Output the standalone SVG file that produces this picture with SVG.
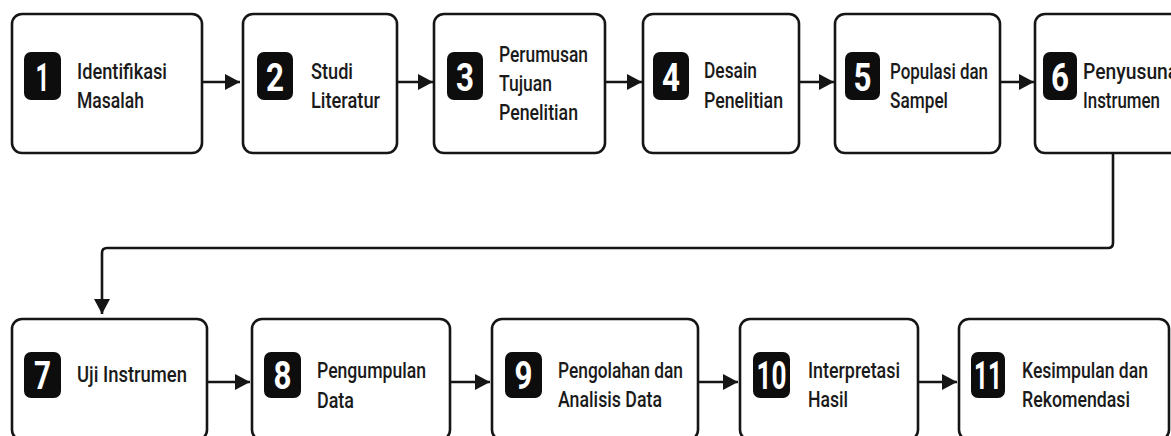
<svg xmlns="http://www.w3.org/2000/svg" width="1171" height="436" viewBox="0 0 1171 436">
<defs>
<style>
.box{fill:#fff;stroke:#151515;stroke-width:2.6}
.badge{fill:#0d0d0d}
.num{font-family:"Roboto","Liberation Sans",sans-serif;font-weight:700;font-size:39px;fill:#fff;text-anchor:middle}
.lbl{font-family:"Roboto","Liberation Sans",sans-serif;font-weight:500;font-size:22px;fill:#1a1a1a}
.con{fill:none;stroke:#151515;stroke-width:2.6}
</style>
<marker id="ah" markerUnits="userSpaceOnUse" markerWidth="16" markerHeight="18" refX="15" refY="9" orient="auto">
<path d="M0,1 L15,9 L0,17 z" fill="#151515"/>
</marker>
</defs>
<rect width="1171" height="436" fill="#fff"/>

<g id="connectors">
<path class="con" d="M202,82 H240" marker-end="url(#ah)"/>
<path class="con" d="M397,82 H433" marker-end="url(#ah)"/>
<path class="con" d="M605,82 H642" marker-end="url(#ah)"/>
<path class="con" d="M799,82 H834" marker-end="url(#ah)"/>
<path class="con" d="M1000,82 H1034" marker-end="url(#ah)"/>
<path class="con" d="M1113,153 V243 Q1113,248 1108,248 H107 Q102,248 102,253 V314" marker-end="url(#ah)"/>
<path class="con" d="M207,382 H250" marker-end="url(#ah)"/>
<path class="con" d="M450,382 H490" marker-end="url(#ah)"/>
<path class="con" d="M698,382 H738" marker-end="url(#ah)"/>
<path class="con" d="M918,382 H957" marker-end="url(#ah)"/>
</g>

<g id="node1">
<rect class="box" x="12" y="14" width="190" height="139" rx="10"/>
<rect class="badge" x="24" y="52" width="37" height="48" rx="7"/>
<text class="num" x="42.5" y="90.5" textLength="14" lengthAdjust="spacingAndGlyphs">1</text>
<text class="lbl" x="77" y="79" textLength="90" lengthAdjust="spacingAndGlyphs">Identifikasi</text>
<text class="lbl" x="77" y="108" textLength="67" lengthAdjust="spacingAndGlyphs">Masalah</text>
</g>

<g id="node2">
<rect class="box" x="243" y="14" width="154" height="139" rx="10"/>
<rect class="badge" x="257" y="52" width="36" height="48" rx="7"/>
<text class="num" x="275" y="90.5" textLength="18" lengthAdjust="spacingAndGlyphs">2</text>
<text class="lbl" x="311" y="79" textLength="42" lengthAdjust="spacingAndGlyphs">Studi</text>
<text class="lbl" x="311" y="108" textLength="69" lengthAdjust="spacingAndGlyphs">Literatur</text>
</g>

<g id="node3">
<rect class="box" x="434" y="14" width="171" height="139" rx="10"/>
<rect class="badge" x="447" y="52" width="36" height="48" rx="7"/>
<text class="num" x="465" y="90.5" textLength="18" lengthAdjust="spacingAndGlyphs">3</text>
<text class="lbl" x="499" y="62" textLength="89" lengthAdjust="spacingAndGlyphs">Perumusan</text>
<text class="lbl" x="499" y="91" textLength="53" lengthAdjust="spacingAndGlyphs">Tujuan</text>
<text class="lbl" x="499" y="120" textLength="79" lengthAdjust="spacingAndGlyphs">Penelitian</text>
</g>

<g id="node4">
<rect class="box" x="643" y="14" width="156" height="139" rx="10"/>
<rect class="badge" x="653" y="52" width="36" height="48" rx="7"/>
<text class="num" x="671" y="90.5" textLength="18" lengthAdjust="spacingAndGlyphs">4</text>
<text class="lbl" x="704" y="78" textLength="53" lengthAdjust="spacingAndGlyphs">Desain</text>
<text class="lbl" x="704" y="108" textLength="79" lengthAdjust="spacingAndGlyphs">Penelitian</text>
</g>

<g id="node5">
<rect class="box" x="835" y="14" width="165" height="139" rx="10"/>
<rect class="badge" x="845" y="52" width="35" height="48" rx="7"/>
<text class="num" x="862.5" y="90.5" textLength="18" lengthAdjust="spacingAndGlyphs">5</text>
<text class="lbl" x="890" y="79" textLength="98" lengthAdjust="spacingAndGlyphs">Populasi dan</text>
<text class="lbl" x="890" y="108" textLength="58" lengthAdjust="spacingAndGlyphs">Sampel</text>
</g>

<g id="node6">
<rect class="box" x="1035" y="14" width="170" height="139" rx="10"/>
<rect class="badge" x="1043" y="52" width="34" height="48" rx="7"/>
<text class="num" x="1060" y="90.5" textLength="18" lengthAdjust="spacingAndGlyphs">6</text>
<text class="lbl" x="1083" y="79" textLength="106" lengthAdjust="spacingAndGlyphs">Penyusunan</text>
<text class="lbl" x="1083" y="108" textLength="77" lengthAdjust="spacingAndGlyphs">Instrumen</text>
</g>

<g id="node7">
<rect class="box" x="12" y="319" width="195" height="121" rx="10"/>
<rect class="badge" x="24" y="352" width="37" height="46" rx="7"/>
<text class="num" x="42.5" y="389" textLength="17" lengthAdjust="spacingAndGlyphs">7</text>
<text class="lbl" x="77" y="382" textLength="110" lengthAdjust="spacingAndGlyphs">Uji Instrumen</text>
</g>

<g id="node8">
<rect class="box" x="252" y="319" width="198" height="121" rx="10"/>
<rect class="badge" x="264" y="352" width="37" height="46" rx="7"/>
<text class="num" x="282.5" y="389" textLength="18" lengthAdjust="spacingAndGlyphs">8</text>
<text class="lbl" x="317" y="378" textLength="109" lengthAdjust="spacingAndGlyphs">Pengumpulan</text>
<text class="lbl" x="317" y="408" textLength="37" lengthAdjust="spacingAndGlyphs">Data</text>
</g>

<g id="node9">
<rect class="box" x="492" y="319" width="206" height="121" rx="10"/>
<rect class="badge" x="505" y="352" width="37" height="46" rx="7"/>
<text class="num" x="523.5" y="389" textLength="18" lengthAdjust="spacingAndGlyphs">9</text>
<text class="lbl" x="558" y="378" textLength="125" lengthAdjust="spacingAndGlyphs">Pengolahan dan</text>
<text class="lbl" x="558" y="407" textLength="104" lengthAdjust="spacingAndGlyphs">Analisis Data</text>
</g>

<g id="node10">
<rect class="box" x="740" y="319" width="178" height="121" rx="10"/>
<rect class="badge" x="753" y="352" width="37" height="46" rx="7"/>
<text class="num" x="771.5" y="389" textLength="30" lengthAdjust="spacingAndGlyphs">10</text>
<text class="lbl" x="808" y="378" textLength="92" lengthAdjust="spacingAndGlyphs">Interpretasi</text>
<text class="lbl" x="808" y="407" textLength="40" lengthAdjust="spacingAndGlyphs">Hasil</text>
</g>

<g id="node11">
<rect class="box" x="959" y="319" width="210" height="121" rx="10"/>
<rect class="badge" x="971" y="352" width="34" height="46" rx="7"/>
<text class="num" x="988" y="389" textLength="28" lengthAdjust="spacingAndGlyphs">11</text>
<text class="lbl" x="1022" y="378" textLength="126" lengthAdjust="spacingAndGlyphs">Kesimpulan dan</text>
<text class="lbl" x="1022" y="407" textLength="108" lengthAdjust="spacingAndGlyphs">Rekomendasi</text>
</g>
</svg>
